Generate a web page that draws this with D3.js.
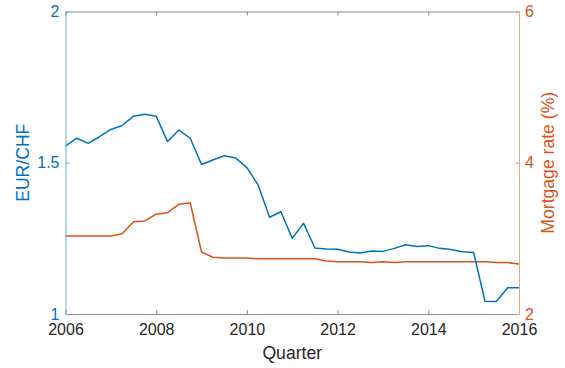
<!DOCTYPE html>
<html>
<head>
<meta charset="utf-8">
<script src="https://cdn.jsdelivr.net/npm/d3@7"></script>
<style>
  html, body { margin: 0; padding: 0; background: #fff; }
  svg { display: block; font-family: "Liberation Sans", Arial, Helvetica, sans-serif; }
</style>
</head>
<body>
<svg id="chart" width="565" height="368"></svg>
<script>
// Quarterly observations, 2006 Q1 through 2016 Q1
const quarters = d3.range(0, 41).map(i => 2006 + i * 0.25);

// EUR/CHF exchange rate (left axis)
const eurChf = [
  1.556, 1.581, 1.564, 1.586, 1.610, 1.623, 1.654, 1.660, 1.654, 1.570,
  1.608, 1.581, 1.494, 1.509, 1.523, 1.516, 1.484, 1.426, 1.320, 1.338,
  1.250, 1.300, 1.218, 1.215, 1.214, 1.205, 1.202, 1.208, 1.207, 1.217,
  1.229, 1.223, 1.226, 1.217, 1.213, 1.206, 1.203, 1.042, 1.041, 1.087,
  1.087
];

// Mortgage rate in percent (right axis)
const mortgageRate = [
  3.03, 3.03, 3.03, 3.03, 3.03, 3.06, 3.22, 3.23, 3.32, 3.34,
  3.45, 3.47, 2.82, 2.75, 2.74, 2.74, 2.74, 2.73, 2.73, 2.73,
  2.73, 2.73, 2.73, 2.70, 2.69, 2.69, 2.69, 2.68, 2.69, 2.68,
  2.69, 2.69, 2.69, 2.69, 2.69, 2.69, 2.69, 2.69, 2.68, 2.68,
  2.66
];

const xTicks = [2006, 2008, 2010, 2012, 2014, 2016];
const leftTicks = [1, 1.5, 2];
const rightTicks = [2, 4, 6];

const blue = "#0072BD";
const orange = "#D95319";

const margin = { left: 65.5, right: 46, top: 11.5, bottom: 54 };
const W = 565, H = 368;
const svg = d3.select("#chart");

const x = d3.scaleLinear().domain([2006, 2016]).range([margin.left, W - margin.right]);
const yL = d3.scaleLinear().domain([1, 2]).range([H - margin.bottom, margin.top]);
const yR = d3.scaleLinear().domain([2, 6]).range([H - margin.bottom, margin.top]);

const x0 = x.range()[0], x1 = x.range()[1];
const yb = yL.range()[0], yt = yL.range()[1];

// Data lines
const line = (ys, vals) => d3.line()
  .x((d, i) => x(quarters[i]))
  .y(d => ys(d))(vals);

svg.append("path")
  .attr("d", line(yR, mortgageRate))
  .attr("fill", "none").attr("stroke", orange).attr("stroke-width", 1.5)
  .attr("stroke-linejoin", "round");

svg.append("path")
  .attr("d", line(yL, eurChf))
  .attr("fill", "none").attr("stroke", blue).attr("stroke-width", 1.5)
  .attr("stroke-linejoin", "round");

// Bottom and top axes (box)
const gBottom = svg.append("g").attr("transform", `translate(0,${yb})`)
  .call(d3.axisBottom(x).tickValues(xTicks).tickFormat(d3.format("d"))
    .tickSizeInner(-4).tickSizeOuter(0).tickPadding(10));
gBottom.select(".domain").attr("stroke", "#8a8a8a");
gBottom.selectAll(".tick line").attr("stroke", "#8a8a8a");
gBottom.selectAll(".tick text").attr("fill", "#262626")
  .style("font-size", "16px").style("font-family", "Liberation Sans, Arial, sans-serif");

const gTop = svg.append("g").attr("transform", `translate(0,${yt})`)
  .call(d3.axisTop(x).tickValues(xTicks).tickFormat("").tickSizeInner(-4).tickSizeOuter(0));
gTop.select(".domain").attr("stroke", "#8a8a8a");
gTop.selectAll(".tick line").attr("stroke", "#8a8a8a");

// Left axis (EUR/CHF)
const gLeft = svg.append("g").attr("transform", `translate(${x0},0)`)
  .call(d3.axisLeft(yL).tickValues(leftTicks).tickFormat(d => d3.format("")(d))
    .tickSizeInner(-4).tickSizeOuter(0).tickPadding(6));
gLeft.select(".domain").attr("stroke", "#6aaee0");
gLeft.selectAll(".tick line").attr("stroke", "#6aaee0");
gLeft.selectAll(".tick text").attr("fill", blue)
  .style("font-size", "16px").style("font-family", "Liberation Sans, Arial, sans-serif");

// Right axis (Mortgage rate)
const gRight = svg.append("g").attr("transform", `translate(${x1},0)`)
  .call(d3.axisRight(yR).tickValues(rightTicks).tickFormat(d3.format("d"))
    .tickSizeInner(-4).tickSizeOuter(0).tickPadding(6));
gRight.select(".domain").attr("stroke", "#efa07e");
gRight.selectAll(".tick line").attr("stroke", "#efa07e");
gRight.selectAll(".tick text").attr("fill", orange)
  .style("font-size", "16px").style("font-family", "Liberation Sans, Arial, sans-serif");

// Axis titles
svg.append("text")
  .attr("x", (x0 + x1) / 2).attr("y", 359)
  .attr("text-anchor", "middle").attr("fill", "#262626")
  .style("font-size", "17.6px")
  .text("Quarter");

svg.append("text")
  .attr("transform", `translate(29,${(yt + yb) / 2}) rotate(-90)`)
  .attr("text-anchor", "middle").attr("fill", blue)
  .style("font-size", "17.6px")
  .text("EUR/CHF");

svg.append("text")
  .attr("transform", `translate(554,${(yt + yb) / 2}) rotate(-90)`)
  .attr("text-anchor", "middle").attr("fill", orange)
  .style("font-size", "17.6px")
  .text("Mortgage rate (%)");
</script>
</body>
</html>
